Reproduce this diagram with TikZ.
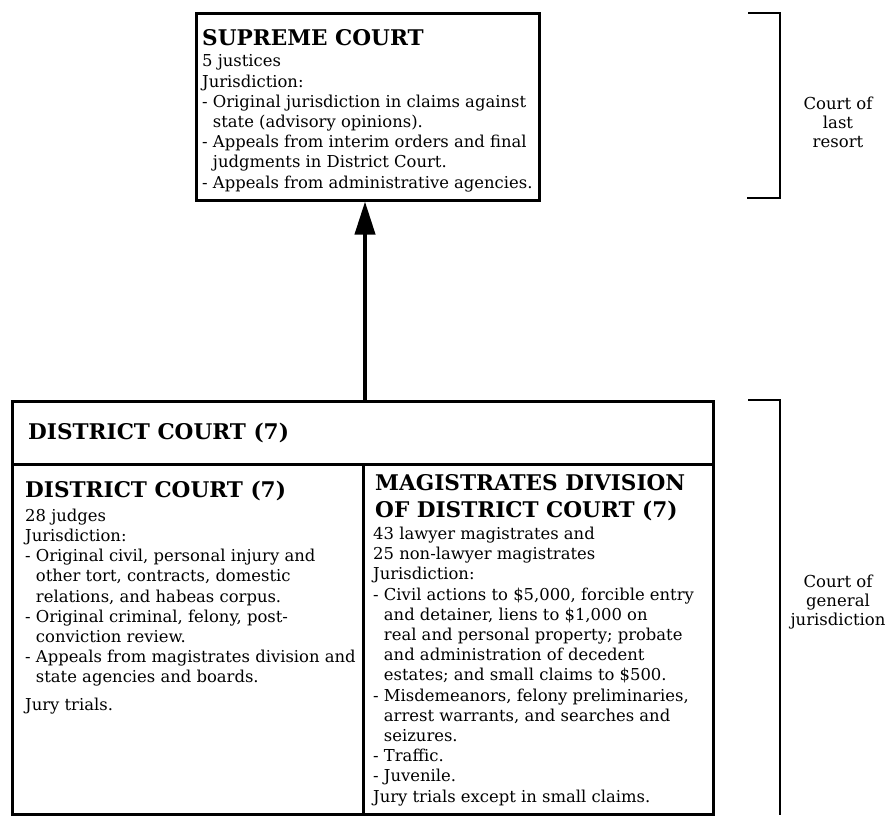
\documentclass[tikz,border=0pt]{standalone}
\usepackage{fontspec}
\setmainfont{DejaVu Serif}
\usepackage{tikz}
\usetikzlibrary{calc}
\usetikzlibrary{arrows.meta}
\tikzset{
  court/.style={draw, line width=3pt, inner sep=0pt, anchor=north west},
  title/.style={anchor=base west, inner sep=0pt, align=left, font=\fontsize{21.6}{27}\selectfont\bfseries},
  body/.style={anchor=base west, inner sep=0pt, align=left, font=\fontsize{16.4}{20.2}\selectfont},
  level/.style={anchor=base, inner sep=0pt, align=center, font=\fontsize{16.5}{18.6}\selectfont},
  bracket/.style={line width=2.5pt},
}
\newcommand{\ind}{\phantom{- }}

\begin{document}
\begin{tikzpicture}[x=1pt, y=-1pt]
  \useasboundingbox (0,0) rectangle (888,815);
  % supreme court (text nodes sit on their last baseline)
  \node[court, line width=2.5pt, minimum width=343pt, minimum height=187pt] (sup) at (195,12) {};
  \node[title] (suptitle) at (202,45) {SUPREME COURT};
  \node[body] (suptext) at (202,188) {5 justices\\
    Jurisdiction:\\
    - Original jurisdiction in claims against\\
    \ind state (advisory opinions).\\
    - Appeals from interim orders and final\\
    \ind judgments in District Court.\\
    - Appeals from administrative agencies.};
  % district court
  \node[court, minimum width=701pt, minimum height=63pt] (dhead) at (11,400) {};
  \node[court, minimum width=351pt, minimum height=350pt] (dleft) at (11,463) {};
  \node[court, minimum width=350pt, minimum height=350pt] (dright) at (362,463) {};
  \node[title] (dheadtitle) at (28,439) {DISTRICT COURT (7)};
  \node[title] (dlefttitle) at (25,497) {DISTRICT COURT (7)};
  \node[body] (dlefttext) at (25,710) {28 judges\\
    Jurisdiction:\\
    - Original civil, personal injury and\\
    \ind other tort, contracts, domestic\\
    \ind relations, and habeas corpus.\\
    - Original criminal, felony, post-\\
    \ind conviction review.\\
    - Appeals from magistrates division and\\
    \ind state agencies and boards.\\[7pt]
    Jury trials.};
  \node[title] (drighttitle) at (375,517) {MAGISTRATES DIVISION\\OF DISTRICT COURT (7)};
  \node[body] (drighttext) at (373,802) {43 lawyer magistrates and\\
    25 non-lawyer magistrates\\
    Jurisdiction:\\
    - Civil actions to \$5,000, forcible entry\\
    \ind and detainer, liens to \$1,000 on\\
    \ind real and personal property; probate\\
    \ind and administration of decedent\\
    \ind estates; and small claims to \$500.\\
    - Misdemeanors, felony preliminaries,\\
    \ind arrest warrants, and searches and\\
    \ind seizures.\\
    - Traffic.\\
    - Juvenile.\\
    Jury trials except in small claims.};
  % appeal
  \draw[line width=4pt, -{Triangle[length=33pt,width=20pt]}] (dhead.north -| dleft.north east) -- (sup.south -| dleft.north east);
  % levels
  \draw[bracket] (748,13) -- (780,13) -- (780,198) -- (747,198);
  \draw[bracket] (748,400) -- (780,400) -- (780,815);
  \node[level] (last) at (838,147) {Court of\\last\\resort};
  \node[level] (general) at (838,625) {Court of\\general\\jurisdiction};
\end{tikzpicture}
\end{document}
